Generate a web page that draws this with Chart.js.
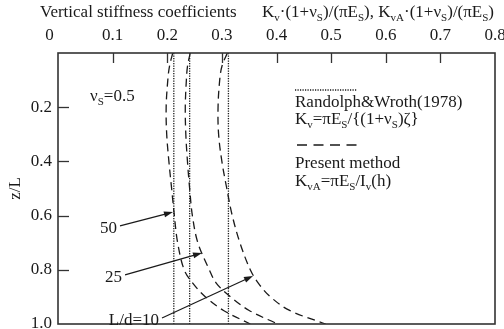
<!DOCTYPE html>
<html>
<head>
<meta charset="utf-8">
<script src="https://cdn.jsdelivr.net/npm/chart.js@4.4.1/dist/chart.umd.min.js"></script>
<style>
  html, body { margin: 0; padding: 0; background: #fff; }
  canvas { display: block; }
</style>
</head>
<body>
<canvas id="chart" width="504" height="329"></canvas>
<script>
// z/L down the pile, and stiffness coefficient read for each L/d (present method)
const depth = [0, 0.05, 0.1, 0.2, 0.3, 0.4, 0.5, 0.6, 0.7, 0.8, 0.85, 0.9, 0.95, 1.0];
const present50 = [0.210, 0.204, 0.201, 0.198, 0.199, 0.203, 0.208, 0.213, 0.219, 0.231, 0.247, 0.270, 0.303, 0.352];
const present25 = [0.242, 0.237, 0.235, 0.233, 0.234, 0.237, 0.241, 0.246, 0.256, 0.277, 0.290, 0.316, 0.350, 0.402];
const present10 = [0.310, 0.300, 0.296, 0.293, 0.294, 0.300, 0.309, 0.319, 0.333, 0.352, 0.367, 0.389, 0.424, 0.490];
// Randolph & Wroth (1978): constant with depth, for L/d = 50, 25, 10
const randolph = [0.212, 0.241, 0.312];
const ldLabels = ['50', '25', 'L/d=10'];

const xTicks = [0, 0.1, 0.2, 0.3, 0.4, 0.5, 0.6, 0.7, 0.8];
const yTicks = [0.2, 0.4, 0.6, 0.8, 1.0];

const serif = '"Liberation Serif", "Times New Roman", serif';
const ink = '#1a1a1a';

function curve(xs) {
    return depth.map((z, i) => ({x: xs[i], y: z}));
}

const datasets = [];
randolph.forEach(v => {
    datasets.push({
        data: [{x: v, y: 0}, {x: v, y: 1}],
        borderColor: ink,
        borderWidth: 1.3,
        borderDash: [1.2, 1.3],
        pointRadius: 0,
        showLine: true
    });
});
[present50, present25, present10].forEach(xs => {
    datasets.push({
        data: curve(xs),
        borderColor: ink,
        borderWidth: 1.3,
        borderDash: [8, 5],
        pointRadius: 0,
        showLine: true,
        tension: 0.35
    });
});

// text with _{...} subscripts
function richText(ctx, str, x, y, align) {
    const parts = str.split(/(_\{[^}]*\})/).filter(s => s.length);
    const big = '17px ' + serif, small = '11px ' + serif;
    let w = 0;
    parts.forEach(p => {
        const sub = p.startsWith('_{');
        ctx.font = sub ? small : big;
        w += ctx.measureText(sub ? p.slice(2, -1) : p).width;
    });
    let cx = align === 'right' ? x - w : x;
    ctx.textAlign = 'left';
    ctx.textBaseline = 'alphabetic';
    parts.forEach(p => {
        const sub = p.startsWith('_{');
        const t = sub ? p.slice(2, -1) : p;
        ctx.font = sub ? small : big;
        ctx.fillText(t, cx, sub ? y + 4 : y);
        cx += ctx.measureText(t).width;
    });
}

function arrow(ctx, x1, y1, x2, y2) {
    const a = Math.atan2(y2 - y1, x2 - x1);
    ctx.beginPath();
    ctx.moveTo(x1, y1);
    ctx.lineTo(x2 - 6 * Math.cos(a), y2 - 6 * Math.sin(a));
    ctx.stroke();
    ctx.beginPath();
    ctx.moveTo(x2, y2);
    ctx.lineTo(x2 - 9 * Math.cos(a) + 3 * Math.sin(a), y2 - 9 * Math.sin(a) - 3 * Math.cos(a));
    ctx.lineTo(x2 - 9 * Math.cos(a) - 3 * Math.sin(a), y2 - 9 * Math.sin(a) + 3 * Math.cos(a));
    ctx.closePath();
    ctx.fill();
}

// arrows from the L/d labels to the curves, in data units
const callouts = [
    {from: [0.1135, 0.638], to: [0.2105, 0.587]},
    {from: [0.1227, 0.819], to: [0.2636, 0.738]},
    {from: [0.1904, 0.978], to: [0.357, 0.823]}
];

const decor = {
    id: 'decor',
    afterDraw(chart) {
        const ctx = chart.ctx;
        const {left, right, top, bottom} = chart.chartArea;
        const xs = chart.scales.x, ys = chart.scales.y;
        ctx.save();
        ctx.strokeStyle = '#333';
        ctx.fillStyle = ink;

        // frame and inward ticks
        ctx.lineWidth = 1.6;
        ctx.strokeRect(left, top, right - left, bottom - top);
        ctx.lineWidth = 1.3;
        xTicks.slice(1, -1).forEach(v => {
            const px = Math.round(xs.getPixelForValue(v)) + 0.5;
            ctx.beginPath(); ctx.moveTo(px, top); ctx.lineTo(px, top + 10); ctx.stroke();
        });
        yTicks.slice(0, -1).forEach(v => {
            const py = Math.round(ys.getPixelForValue(v)) + 0.5;
            ctx.beginPath(); ctx.moveTo(left, py); ctx.lineTo(left + 11, py); ctx.stroke();
        });

        // axis title on top
        richText(ctx, 'Vertical stiffness coefficients', 40, 17);
        richText(ctx, 'K_{v}·(1+ν_{S})/(πE_{S}), K_{vA}·(1+ν_{S})/(πE_{S})', 262, 17);

        richText(ctx, 'ν_{S}=0.5', 90, 101);

        // legend
        ctx.strokeStyle = ink;
        ctx.lineWidth = 1.3;
        ctx.setLineDash([1.2, 1.3]);
        ctx.beginPath(); ctx.moveTo(295, 90); ctx.lineTo(357, 90); ctx.stroke();
        ctx.setLineDash([10, 6.5]);
        ctx.beginPath(); ctx.moveTo(297, 145); ctx.lineTo(357, 145); ctx.stroke();
        ctx.setLineDash([]);
        richText(ctx, 'Randolph&Wroth(1978)', 295, 107);
        richText(ctx, 'K_{v}=πE_{S}/{(1+ν_{S})ζ}', 295, 124);
        richText(ctx, 'Present method', 295, 168);
        richText(ctx, 'K_{vA}=πE_{S}/I_{v}(h)', 295, 186);

        // L/d callouts
        ctx.lineWidth = 1.2;
        callouts.forEach((c, i) => {
            const x1 = xs.getPixelForValue(c.from[0]), y1 = ys.getPixelForValue(c.from[1]);
            const x2 = xs.getPixelForValue(c.to[0]), y2 = ys.getPixelForValue(c.to[1]);
            arrow(ctx, x1, y1, x2, y2);
            richText(ctx, ldLabels[i], x1 - 3, y1 + 7, 'right');
        });
        ctx.restore();
    }
};

function noEdgePad(s) {
    s.paddingLeft = 0;
    s.paddingRight = 0;
    s.paddingTop = 0;
    s.paddingBottom = 0;
}

new Chart(document.getElementById('chart'), {
    type: 'scatter',
    data: {datasets: datasets},
    options: {
        responsive: false,
        animation: false,
        devicePixelRatio: 1,
        layout: {padding: {left: 0, top: 0, right: 9, bottom: 5}},
        plugins: {legend: {display: false}, tooltip: {enabled: false}},
        scales: {
            x: {
                type: 'linear',
                position: 'top',
                min: 0,
                max: 0.8,
                afterBuildTicks: s => { s.ticks = xTicks.map(v => ({value: v})); },
                afterFit: s => { s.height = 53; noEdgePad(s); },
                ticks: {
                    color: ink,
                    padding: 7,
                    font: {family: serif, size: 17},
                    // the 0 sits a little left of the frame in the original
                    callback: v => v === 0 ? '0    ' : v.toFixed(1)
                },
                grid: {display: false, drawTicks: false},
                border: {display: false}
            },
            y: {
                type: 'linear',
                reverse: true,
                min: 0,
                max: 1,
                afterBuildTicks: s => { s.ticks = yTicks.map(v => ({value: v})); },
                afterFit: s => { s.width = 58; noEdgePad(s); },
                ticks: {
                    color: ink,
                    padding: 6,
                    font: {family: serif, size: 17},
                    callback: v => v.toFixed(1)
                },
                grid: {display: false, drawTicks: false},
                border: {display: false},
                title: {
                    display: true,
                    text: 'z/L',
                    color: ink,
                    font: {family: serif, size: 17},
                    padding: {top: 5, bottom: 0}
                }
            }
        }
    },
    plugins: [decor]
});
</script>
</body>
</html>
